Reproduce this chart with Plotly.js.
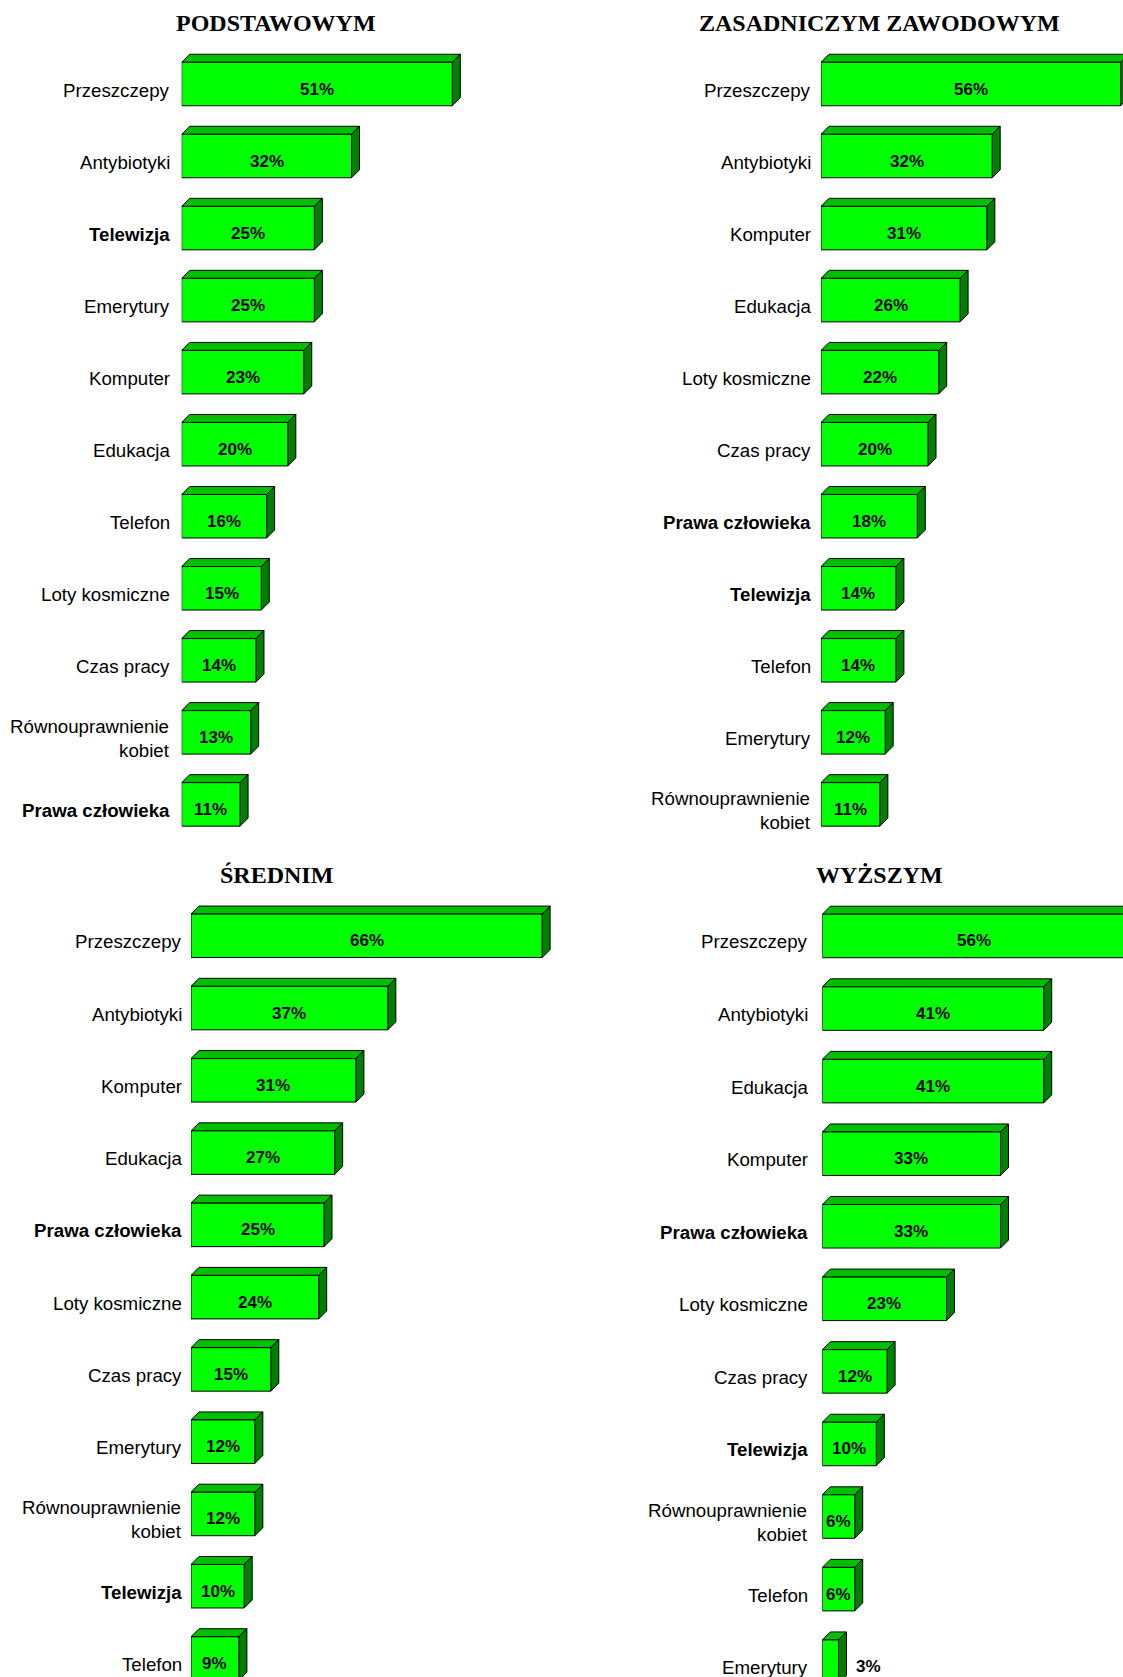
<!DOCTYPE html>
<html>
<head>
<meta charset="utf-8">
<script src="https://cdn.plot.ly/plotly-3.0.1.min.js"></script>
<style>
html,body{margin:0;padding:0;overflow:hidden;background:#fff}
#chart{width:1123px;height:1677px}
</style>
</head>
<body>
<div id="chart"></div>
<script>
// ---------- DATA ----------
const panelTitles = ['PODSTAWOWYM', 'ZASADNICZYM ZAWODOWYM', 'ŚREDNIM', 'WYŻSZYM'];

const catsPodstawowym = ['Przeszczepy','Antybiotyki','Telewizja','Emerytury','Komputer','Edukacja','Telefon','Loty kosmiczne','Czas pracy','Równouprawnienie kobiet','Prawa człowieka'];
const valsPodstawowym = [51, 32, 25, 25, 23, 20, 16, 15, 14, 13, 11];

const catsZawodowym = ['Przeszczepy','Antybiotyki','Komputer','Edukacja','Loty kosmiczne','Czas pracy','Prawa człowieka','Telewizja','Telefon','Emerytury','Równouprawnienie kobiet'];
const valsZawodowym = [56, 32, 31, 26, 22, 20, 18, 14, 14, 12, 11];

const catsSrednim = ['Przeszczepy','Antybiotyki','Komputer','Edukacja','Prawa człowieka','Loty kosmiczne','Czas pracy','Emerytury','Równouprawnienie kobiet','Telewizja','Telefon'];
const valsSrednim = [66, 37, 31, 27, 25, 24, 15, 12, 12, 10, 9];

const catsWyzszym = ['Przeszczepy','Antybiotyki','Edukacja','Komputer','Prawa człowieka','Loty kosmiczne','Czas pracy','Telewizja','Równouprawnienie kobiet','Telefon','Emerytury'];
const valsWyzszym = [56, 41, 41, 33, 33, 23, 12, 10, 6, 6, 3];

const boldCategories = ['Telewizja', 'Prawa człowieka'];

// ---------- STYLE / GEOMETRY ----------
const W = 1123, H = 1677;
const BAR_H = 43.5, DEPTH = 8;
const FRONT = '#00FF00', TOP = '#00BF00', SIDE = '#008000', EDGE = '#000000';
const SANS = 'Liberation Sans, Arial, sans-serif';
const SERIF = 'Liberation Serif, Times New Roman, serif';

const geom = [
  {x0: 181.7, s: 5.306, xmax: 75,   yc0: 84.0,  dy: 72.04, gap: 9.7,  tx: 276, ty: 23.3},
  {x0: 821.0, s: 5.35,  xmax: null, yc0: 84.0,  dy: 72.04, gap: 8.3,  tx: 879, ty: 23.3},
  {x0: 191.0, s: 5.32,  xmax: 75,   yc0: 935.8, dy: 72.27, gap: 7.3,  tx: 276, ty: 875},
  {x0: 822.3, s: 5.40,  xmax: null, yc0: 936.0, dy: 72.57, gap: 12.0, tx: 879, ty: 875}
];
const panelData = [
  [catsPodstawowym, valsPodstawowym],
  [catsZawodowym, valsZawodowym],
  [catsSrednim, valsSrednim],
  [catsWyzszym, valsWyzszym]
];

function wrapLabel(t) {
  if (t.length <= 18) return t;
  const i = t.lastIndexOf(' ');
  return t.slice(0, i) + '<br>' + t.slice(i + 1);
}

const traces = [];
const layout = {
  width: W, height: H,
  margin: {l: 0, r: 0, t: 0, b: 0, pad: 0},
  paper_bgcolor: '#ffffff', plot_bgcolor: 'rgba(0,0,0,0)',
  showlegend: false,
  annotations: [],
  shapes: []
};

panelData.forEach(([cats, vals], k) => {
  const g = geom[k];
  const sfx = k === 0 ? '' : String(k + 1);
  const xName = 'x' + sfx, yName = 'y' + sfx;
  const n = cats.length;
  const xmax = g.xmax !== null ? g.xmax : (W - g.x0) / g.s;
  const xEnd = Math.min(W, g.x0 + xmax * g.s);
  const topPx = g.yc0 - 0.9 * g.dy;
  const botPx = Math.min(H, g.yc0 + (n - 1 + 0.7) * g.dy);
  const bw = BAR_H / g.dy;

  layout['xaxis' + sfx] = {
    domain: [g.x0 / W, xEnd / W], range: [0, (xEnd - g.x0) / g.s],
    anchor: yName, showgrid: false, zeroline: false, showline: false,
    showticklabels: false, ticks: '', fixedrange: true
  };
  layout['yaxis' + sfx] = {
    domain: [1 - botPx / H, 1 - topPx / H],
    type: 'category', categoryorder: 'array', categoryarray: cats,
    range: [(botPx - g.yc0) / g.dy, -0.9],
    anchor: xName, showgrid: false, zeroline: false, showline: false,
    showticklabels: false, ticks: '', fixedrange: true
  };

  traces.push({
    type: 'bar', orientation: 'h', x: vals, y: cats,
    xaxis: xName, yaxis: yName, width: bw,
    marker: {color: FRONT, line: {color: EDGE, width: 1}},
    hoverinfo: 'skip'
  });

  // title
  layout.annotations.push({
    xref: 'paper', yref: 'paper', x: g.tx / W, y: 1 - g.ty / H,
    xanchor: 'center', yanchor: 'middle', showarrow: false,
    text: '<b>' + panelTitles[k] + '</b>',
    font: {family: SERIF, size: 24, color: '#000'}
  });

  cats.forEach((c, i) => {
    const lab = wrapLabel(c);
    layout.annotations.push({
      xref: xName, yref: yName, x: 0, y: c,
      xanchor: 'right', yanchor: 'middle', align: 'right',
      xshift: -g.gap, yshift: -6, showarrow: false,
      text: boldCategories.includes(c) ? '<b>' + lab + '</b>' : lab,
      font: {family: SANS, size: 18.7, color: '#000'}
    });
    const v = vals[i];
    const small = v < 5;
    layout.annotations.push({
      xref: xName, yref: yName, x: small ? v : v / 2, y: c,
      xanchor: small ? 'left' : 'center', yanchor: 'middle',
      xshift: small ? 15 : 0, yshift: -5, showarrow: false,
      text: '<b>' + v + '%</b>',
      font: {family: SANS, size: 17, color: '#000'}
    });
  });
});

Plotly.newPlot('chart', traces, layout, {staticPlot: true, displayModeBar: false}).then(gd => {
  const fl = gd._fullLayout;
  const shapes = [];
  panelData.forEach(([cats, vals], k) => {
    const sfx = k === 0 ? '' : String(k + 1);
    const xa = fl['xaxis' + sfx], ya = fl['yaxis' + sfx];
    const bw = BAR_H / geom[k].dy;
    const h = Math.abs(ya.l2p(bw / 2) - ya.l2p(0));
    const D = DEPTH;
    cats.forEach((c, i) => {
      const v = vals[i];
      const w = xa.l2p(v) - xa.l2p(0);
      shapes.push({
        type: 'path', xref: 'x' + sfx, yref: 'y' + sfx,
        xsizemode: 'pixel', ysizemode: 'pixel', xanchor: 0, yanchor: c,
        path: `M0,${h} L${w},${h} L${w + D},${h + D} L${D},${h + D} Z`,
        fillcolor: TOP, line: {color: EDGE, width: 1}, layer: 'below'
      });
      shapes.push({
        type: 'path', xref: 'x' + sfx, yref: 'y' + sfx,
        xsizemode: 'pixel', ysizemode: 'pixel', xanchor: v, yanchor: c,
        path: `M0,${h} L${D},${h + D} L${D},${-h + D} L0,${-h} Z`,
        fillcolor: SIDE, line: {color: EDGE, width: 1}, layer: 'below'
      });
    });
  });
  return Plotly.relayout(gd, {shapes: shapes});
});
</script>
</body>
</html>
